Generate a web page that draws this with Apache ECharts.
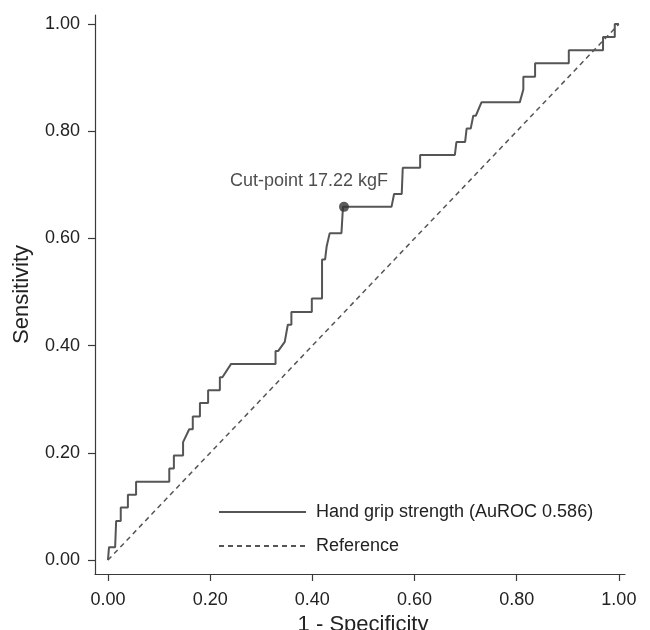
<!DOCTYPE html>
<html>
<head>
<meta charset="utf-8">
<script src="https://cdn.jsdelivr.net/npm/echarts@6/dist/echarts.min.js"></script>
<style>
  html, body { margin: 0; padding: 0; background: #fff; }
  #chart-01 { width: 650px; height: 630px; }
</style>
</head>
<body>
<div id="chart-01"></div>
<script>
// ROC curve: 1 - specificity (x) and sensitivity (y)
var fpr = [0, 0.002, 0.002, 0.014, 0.016, 0.025, 0.025, 0.039, 0.039, 0.055, 0.055, 0.120, 0.120, 0.129, 0.129,
    0.147, 0.147, 0.159, 0.166, 0.166, 0.180, 0.180, 0.196, 0.196, 0.219, 0.219, 0.224, 0.241, 0.328, 0.328,
    0.333, 0.346, 0.352, 0.359, 0.359, 0.399, 0.399, 0.419, 0.419, 0.425, 0.428, 0.434, 0.457, 0.460, 0.462,
    0.555, 0.560, 0.575, 0.577, 0.611, 0.611, 0.679, 0.682, 0.699, 0.702, 0.710, 0.715, 0.720, 0.731, 0.806,
    0.813, 0.813, 0.836, 0.836, 0.902, 0.902, 0.969, 0.969, 0.992, 0.992, 1.0];
var tpr = [0, 0, 0.024, 0.024, 0.073, 0.073, 0.098, 0.098, 0.122, 0.122, 0.146, 0.146, 0.171, 0.171, 0.195,
    0.195, 0.220, 0.244, 0.244, 0.268, 0.268, 0.293, 0.293, 0.317, 0.317, 0.341, 0.341, 0.366, 0.366, 0.390,
    0.390, 0.407, 0.439, 0.439, 0.463, 0.463, 0.488, 0.488, 0.561, 0.561, 0.585, 0.610, 0.610, 0.659, 0.659,
    0.659, 0.683, 0.683, 0.732, 0.732, 0.756, 0.756, 0.780, 0.780, 0.805, 0.805, 0.829, 0.829, 0.854, 0.854,
    0.878, 0.902, 0.902, 0.927, 0.927, 0.951, 0.951, 0.976, 0.976, 1.0, 1.0];
var refX = [0, 1];
var refY = [0, 1];
var cutPoint = [0.462, 0.659];
var cutLabel = 'Cut-point 17.22 kgF';
var tickValues = [0, 0.2, 0.4, 0.6, 0.8, 1.0];
var seriesNames = ['Hand grip strength (AuROC 0.586)', 'Reference'];

function zip(xs, ys) {
    var out = [];
    for (var i = 0; i < xs.length; i++) out.push([xs[i], ys[i]]);
    return out;
}

var myChart01 = echarts.init(document.getElementById('chart-01'));
var font = 'Liberation Sans, Arial, sans-serif';
var axisColor = '#3a3a3a';

option01 = {
    animation: false,
    backgroundColor: '#fff',
    textStyle: { fontFamily: font },
    grid: { left: 95, right: 25, top: 15, bottom: 56, outerBoundsMode: 'none' },
    legend: {
        orient: 'vertical',
        left: 213,
        top: 498,
        itemWidth: 87,
        itemHeight: 14,
        itemGap: 16,
        itemStyle: { opacity: 0 },
        data: seriesNames,
        textStyle: { fontSize: 18, color: '#222', fontFamily: font, padding: [0, 0, 0, 5] }
    },
    xAxis: {
        type: 'value',
        min: -0.0254,
        max: 1.012,
        name: '1 - Specificity',
        nameLocation: 'middle',
        nameGap: 34,
        nameTextStyle: { fontSize: 22, color: '#222', fontFamily: font, padding: [0, 0, 0, 6] },
        axisLine: { onZero: false, lineStyle: { color: axisColor, width: 1.2 } },
        axisTick: { show: true, length: 7, customValues: tickValues, lineStyle: { color: axisColor, width: 1.2 } },
        axisLabel: {
            customValues: tickValues,
            margin: 17,
            fontSize: 18,
            color: '#222',
            formatter: function (v) { return v.toFixed(2); }
        },
        splitLine: { show: false }
    },
    yAxis: {
        type: 'value',
        min: -0.026,
        max: 1.017,
        name: 'Sensitivity',
        nameLocation: 'middle',
        nameGap: 62,
        nameTextStyle: { fontSize: 22, color: '#222', fontFamily: font },
        axisLine: { show: true, onZero: false, lineStyle: { color: axisColor, width: 1.2 } },
        axisTick: { show: true, length: 7, customValues: tickValues, lineStyle: { color: axisColor, width: 1.2 } },
        axisLabel: {
            customValues: tickValues,
            margin: 15,
            fontSize: 18,
            color: '#222',
            formatter: function (v) { return v.toFixed(2); }
        },
        splitLine: { show: false }
    },
    series: [
        {
            name: seriesNames[0],
            type: 'line',
            symbol: 'none',
            color: '#555',
            lineStyle: { color: '#555', width: 2 },
            data: zip(fpr, tpr),
            z: 3
        },
        {
            name: seriesNames[1],
            type: 'line',
            symbol: 'none',
            color: '#555',
            lineStyle: { color: '#555', width: 1.5, type: [5, 4] },
            data: zip(refX, refY),
            z: 2
        },
        {
            name: 'cut',
            type: 'scatter',
            symbolSize: 10,
            itemStyle: { color: '#333' },
            label: {
                show: true,
                position: 'top',
                offset: [-35, -7],
                formatter: cutLabel,
                fontSize: 18,
                color: '#222',
                fontFamily: font
            },
            data: [cutPoint],
            z: 4
        }
    ]
};
myChart01.setOption(option01);
</script>
</body>
</html>
